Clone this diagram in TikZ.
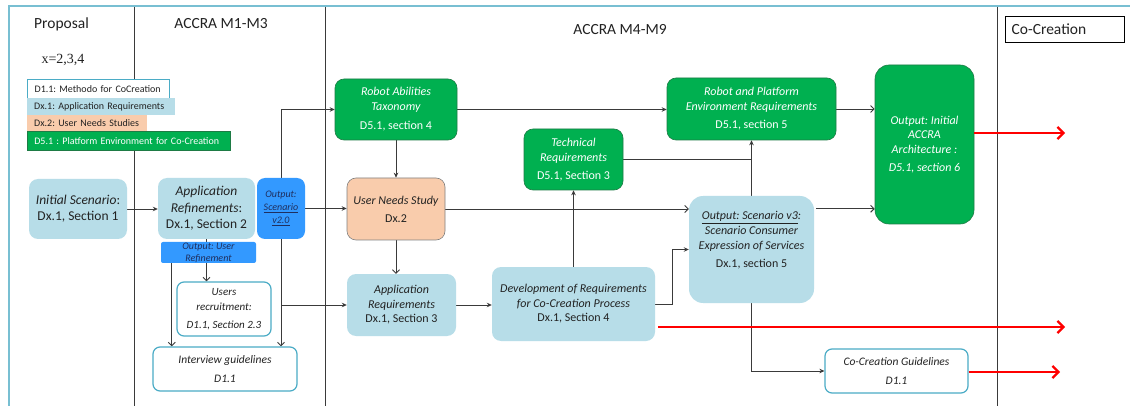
\documentclass[tikz,border=0pt]{standalone}
\usepackage{fontspec}
\setmainfont{Carlito}
\newfontfamily\serifx{Liberation Serif}
\usetikzlibrary{arrows.meta,calc,backgrounds}
\newcommand\myfs[2]{\fontsize{#1}{#2}\selectfont}
\frenchspacing
\definecolor{lblue}{HTML}{B7DDE8}
\definecolor{ggreen}{HTML}{00B050}
\definecolor{dgreen}{HTML}{1E7B45}
\definecolor{peach}{HTML}{F9CCAC}
\definecolor{obl}{HTML}{3399FF}
\definecolor{navy}{HTML}{1F2F5F}
\definecolor{tealb}{HTML}{4BACC6}
\definecolor{framec}{HTML}{78BFD2}
\definecolor{lineg}{HTML}{3A3A3A}
\definecolor{txt}{HTML}{222222}
\tikzset{
  lb/.style={fill=lblue, draw=none, rounded corners=9pt, align=center, inner sep=0pt, text=txt},
  gb/.style={fill=ggreen, draw=dgreen, line width=0.6pt, rounded corners=9pt, text=white, align=center, inner sep=0pt},
  pb/.style={fill=peach, draw=gray, line width=0.6pt, rounded corners=9pt, align=center, inner sep=0pt, text=txt},
  ob/.style={fill=obl, draw=none, align=center, inner sep=0pt, text=navy},
  wb/.style={fill=white, draw=tealb, line width=1.2pt, rounded corners=7pt, align=center, inner sep=0pt, text=txt},
  legend/.style={anchor=north west, inner ysep=0pt, inner xsep=7pt, align=left, font=\myfs{10}{12}, text=txt},
  divider/.style={draw=lineg, line width=0.9pt},
  conn/.style={draw=lineg, line width=0.9pt},
  fa/.style={conn, -{Stealth[length=5pt,width=4.5pt]}},
  oa/.style={conn, -{Straight Barb[length=3.5pt,width=7pt]}},
  ra/.style={draw=red, line width=2.2pt, -{Straight Barb[length=6pt,width=12pt,line width=2.2pt]}},
}
\begin{document}
\begin{tikzpicture}[x=1pt,y=-1pt]
\begin{scope}[on background layer]
\fill[white] (0,0) rectangle (1130,406);
\end{scope}
\useasboundingbox (0,0) rectangle (1130,406);
% frame and column dividers
\draw[framec, line width=1.6pt] (9,406) -- (9,6) -- (1130,6);
\draw[divider] (134,7) -- (134,406);
\draw[divider] (325,7) -- (325,406);
\draw[divider] (997,7) -- (997,406);
% headers
\node[anchor=west, font=\myfs{15.5}{18}, text=txt, inner sep=0pt] (hprop) at (34,24) {Proposal};
\node[font=\myfs{15.5}{18}, text=txt, inner sep=0pt] (hm13) at (221,24) {ACCRA M1-M3};
\node[font=\myfs{15.5}{18}, text=txt, inner sep=0pt] (hm49) at (620,30) {ACCRA M4-M9};
\node[anchor=north west, draw=black, line width=1.2pt, minimum width=119, minimum height=26, inner xsep=6pt, inner ysep=0pt, text width=107, align=left, font=\myfs{15.5}{18}, text=txt] (hcoc) at (1005,16) {Co-Creation};
\node[font=\serifx\myfs{14}{16}, text=txt, inner sep=0pt] (xval) at (63,60) {x=2,3,4};
% legend
\node[legend, fill=white, draw=tealb, line width=1.2pt, minimum height=19, text width=128] (lg1) at (27,79) {\mbox{D1.1: Methodo for CoCreation}};
\node[legend, fill=lblue, minimum height=17, text width=134] (lg2) at (27,98) {\mbox{Dx.1: Application Requirements}};
\node[legend, fill=peach, minimum height=16, text width=106] (lg3) at (27,115) {\mbox{Dx.2: User Needs Studies}};
\node[legend, fill=ggreen, draw=dgreen, line width=0.6pt, minimum height=19, text width=189, text=white] (lg4) at (27,131) {\mbox{D5.1 : Platform Environment for Co-Creation}};
% nodes
\node[lb, minimum width=98, minimum height=60, font=\myfs{13.5}{16}] (init) at (78,209) {\textit{Initial Scenario}:\\Dx.1, Section 1};
\node[lb, minimum width=97, minimum height=61, font=\myfs{13.5}{16.5}] (appref) at (206.5,208.5) {\textit{Application}\\\textit{Refinements}:\\Dx.1, Section 2};
\node[ob, rounded corners=8pt, minimum width=48, minimum height=61, font=\itshape\myfs{10}{13}] (out2) at (281,208.5) {Output:\\\underline{Scenario}\\\underline{v2.0}};
\node[ob, rounded corners=2pt, minimum width=95, minimum height=21, font=\itshape\myfs{10}{12}] (outur) at (208.5,252.5) {Output: User\\Refinement};
\node[wb, minimum width=94, minimum height=54, font=\itshape\myfs{11}{15}] (usrec) at (224,309) {Users\\recruitment:\\[3pt]D1.1, Section 2.3};
\node[wb, minimum width=144, minimum height=44, font=\itshape\myfs{11.5}{15}] (intv) at (225,369) {Interview guidelines\\[4pt]D1.1};
\node[gb, minimum width=122, minimum height=61, font=\myfs{12}{15}] (roab) at (396,109.5) {\textit{Robot Abilities}\\\textit{Taxonomy}\\[4pt]D5.1, section 4};
\node[pb, minimum width=98, minimum height=62, font=\myfs{12}{15}] (uns) at (396,209) {\textit{User Needs Study}\\[3pt]Dx.2};
\node[lb, minimum width=109, minimum height=62, font=\myfs{12}{14.5}] (appreq) at (401.5,305) {\textit{Application}\\\textit{Requirements}\\Dx.1, Section 3};
\node[lb, minimum width=163, minimum height=74, font=\myfs{12}{14.5}] (dev) at (573.5,304) {\textit{Development of Requirements}\\\textit{for Co-Creation Process}\\Dx.1, Section 4};
\node[gb, minimum width=99, minimum height=61, font=\myfs{12}{15.5}] (tech) at (573.5,159.5) {\textit{Technical}\\\textit{Requirements}\\[2.5pt]D5.1, Section 3};
\node[gb, minimum width=169, minimum height=62, font=\myfs{12}{15}] (ropl) at (751.5,109) {\textit{Robot and Platform}\\\textit{Environment Requirements}\\[3pt]D5.1, section 5};
\node[gb, rounded corners=14pt, minimum width=99, minimum height=159, font=\itshape\myfs{12}{14.5}] (outinit) at (924.5,144.5) {Output: Initial\\ACCRA\\Architecture :\\[4pt]D5.1, section 6};
\node[lb, rounded corners=14pt, minimum width=125, minimum height=107] (v3) at (751.5,249.5) {};
\node[align=center, inner sep=0pt, text=txt, font=\myfs{12}{15}] (v3t) at ($(v3.center)+(0,-9)$) {\textit{\underline{Output: Scenario v3}:}\\\textit{Scenario Consumer}\\\textit{Expression of Services}\\[3pt]Dx.1, section 5};
\node[wb, minimum width=143, minimum height=44, font=\itshape\myfs{11.5}{15}] (cog) at (896.5,371) {Co-Creation Guidelines\\[4pt]D1.1};
% connector points
\coordinate (ura) at ($(outur.south west)+(11,-3)$);
\coordinate (v3e) at ($(v3.north east)+(2,13)$);
\coordinate (dvr) at ($(dev.east)+(3,23)$);
\coordinate (r1) at (1065,133);
\coordinate (r2) at (1065,327);
\coordinate (r3) at (1060,372);
\coordinate (oie) at ($(outinit.east)+(0,-11.5)$);
% connectors
\begin{scope}[on background layer]
\draw[fa] (init.east) -- (init.east -| appref.west);
\draw[oa] (appref.south) -- (appref.south |- usrec.north);
\draw[oa] (ura) -- (ura |- intv.north);
\draw[oa] (out2.south) -- (out2.south |- intv.north);
\draw[fa] (out2.south |- appreq.west) -- (appreq.west);
\draw[fa] (out2.north) |- (roab.west);
\draw[fa] (out2.east) -- (out2.east -| uns.west);
\draw[fa] (roab.south) -- (uns.north);
\draw[oa] (uns.south) -- (uns.south |- appreq.north);
\draw[fa] (appreq.east) -- (appreq.east -| dev.west);
\draw[fa] (dev.north) -- (tech.south);
\draw[fa] (roab.east) -- (roab.east -| ropl.west);
\draw[conn] (tech.east) -- (tech.east -| v3.north);
\draw[fa] (v3.north) -- (ropl.south);
\draw[oa] (uns.east) -- (uns.east -| v3.west);
\draw[fa] (dev.east) -- ++(17,0) |- (v3.west);
\draw[oa] (ropl.east) -- (ropl.east -| outinit.west);
\draw[oa] (v3e) -- (v3e -| outinit.west);
\draw[fa] (v3.south) |- (cog.west);
\end{scope}
\draw[ra] (oie) -- (r1);
\draw[ra] (dvr) -- (r2);
\draw[ra] (cog.east |- r3) -- (r3);
\end{tikzpicture}
\end{document}
